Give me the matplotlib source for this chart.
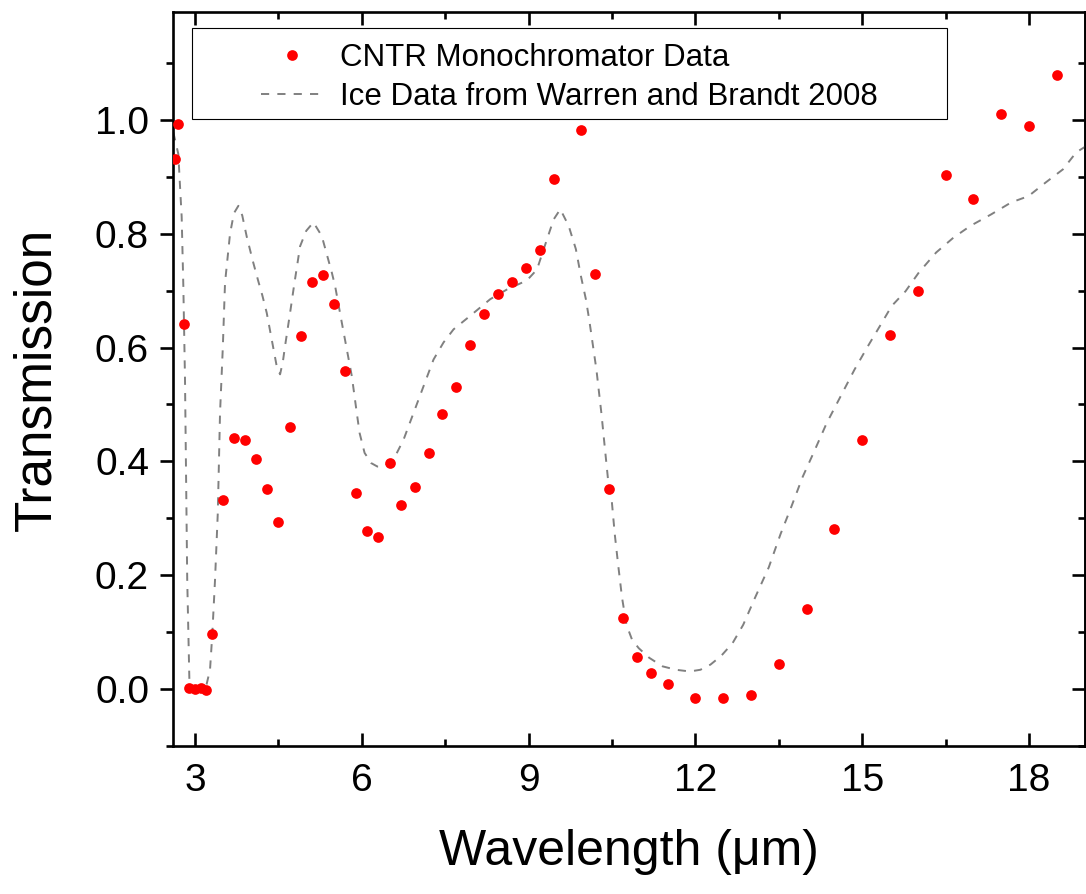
import numpy as np
import matplotlib.pyplot as plt
from matplotlib.patches import Rectangle
from matplotlib.ticker import MultipleLocator, FormatStrFormatter

plt.rcParams['font.family'] = ['Liberation Sans', 'DejaVu Sans']

## CNTR monochromator points
cntr_wl = [2.64, 2.7, 2.81, 2.9, 3.0, 3.1, 3.2, 3.3, 3.5, 3.7, 3.9, 4.1, 4.3,
           4.5, 4.7, 4.9, 5.1, 5.3, 5.5, 5.7, 5.9, 6.1, 6.3, 6.5, 6.7, 6.95,
           7.2, 7.45, 7.7, 7.95, 8.2, 8.45, 8.7, 8.95, 9.2, 9.45, 9.95, 10.2,
           10.45, 10.7, 10.95, 11.2, 11.5, 12.0, 12.5, 13.0, 13.5, 14.0, 14.5,
           15.0, 15.5, 16.0, 16.5, 17.0, 17.5, 18.0, 18.5]
cntr_tr = [0.932, 0.992, 0.641, 0.002, 0.0, 0.002, -0.001, 0.096, 0.333,
           0.442, 0.438, 0.404, 0.352, 0.293, 0.461, 0.620, 0.715, 0.727,
           0.676, 0.558, 0.344, 0.277, 0.267, 0.398, 0.324, 0.355, 0.414,
           0.484, 0.530, 0.604, 0.659, 0.694, 0.716, 0.740, 0.771, 0.896,
           0.982, 0.729, 0.351, 0.125, 0.057, 0.029, 0.009, -0.015, -0.016,
           -0.010, 0.045, 0.141, 0.281, 0.437, 0.622, 0.700, 0.904, 0.861,
           1.011, 0.990, 1.078]

## Ice curve, Warren and Brandt 2008 (traced)
ice_wl = [2.61, 2.70, 2.73, 2.76, 2.79, 2.82, 2.84, 2.86, 2.90, 3.0, 3.1,
          3.2, 3.27, 3.31, 3.36, 3.41, 3.45, 3.50, 3.54, 3.63, 3.70, 3.78,
          3.85, 3.93, 4.04, 4.14, 4.21, 4.29, 4.38, 4.47, 4.53, 4.58, 4.62,
          4.71, 4.78, 4.89, 5.0, 5.13, 5.28, 5.46, 5.52, 5.64, 5.73, 5.82,
          5.91, 5.96, 6.05, 6.17, 6.28, 6.39, 6.50, 6.60, 6.75, 6.93, 7.11,
          7.29, 7.47, 7.65, 7.94, 8.31, 8.61, 8.97, 9.15, 9.33, 9.45, 9.57,
          9.72, 9.85, 9.94, 10.03, 10.09, 10.22, 10.31, 10.37, 10.43, 10.49,
          10.55, 10.61, 10.68, 10.76, 10.86, 10.98, 11.17, 11.41, 11.65,
          11.9, 12.09, 12.27, 12.46, 12.67, 12.86, 13.07, 13.32, 13.53,
          13.72, 13.93, 14.12, 14.36, 14.61, 14.86, 15.10, 15.35, 15.53,
          15.78, 16.02, 16.33, 16.64, 16.95, 17.32, 17.68, 17.99, 18.30,
          18.61, 18.85, 19.03]
ice_tr = [0.978, 0.94, 0.884, 0.83, 0.708, 0.544, 0.368, 0.192, 0.01,
          0.003, 0.003, 0.005, 0.034, 0.095, 0.192, 0.31, 0.485, 0.60,
          0.714, 0.80, 0.836, 0.849, 0.832, 0.795, 0.752, 0.716, 0.692, 0.661,
          0.614, 0.567, 0.553, 0.575, 0.603, 0.661, 0.708, 0.778, 0.805,
          0.820, 0.796, 0.732, 0.708, 0.644, 0.597, 0.55, 0.485, 0.45, 0.415,
          0.397, 0.391, 0.391, 0.398, 0.409, 0.438, 0.485, 0.532, 0.579,
          0.609, 0.632, 0.655, 0.685, 0.702, 0.718, 0.737, 0.79, 0.825,
          0.843, 0.814, 0.773, 0.726, 0.685, 0.649, 0.561, 0.484, 0.425,
          0.367, 0.337, 0.272, 0.219, 0.161, 0.113, 0.087, 0.072, 0.055,
          0.040, 0.034, 0.031, 0.034, 0.043, 0.058, 0.081, 0.113, 0.160,
          0.214, 0.272, 0.319, 0.373, 0.414, 0.467, 0.514, 0.561, 0.602,
          0.643, 0.673, 0.699, 0.732, 0.767, 0.793, 0.814, 0.834, 0.855,
          0.866, 0.890, 0.913, 0.943, 0.954]

## Plot
fig = plt.figure(figsize=(10.86, 8.94), dpi=100)
ax = fig.add_axes([0.1596, 0.1655, 0.8391, 0.8214])

ln, = ax.plot(ice_wl, ice_tr, color='#808080', lw=1.4, dashes=(4.2, 4.2), zorder=2)
pts, = ax.plot(cntr_wl, cntr_tr, 'o', color='#ff0000', ms=7.7, mew=0, zorder=3)

ax.set_xlim(2.61, 19)
ax.set_ylim(-0.1, 1.19)
ax.xaxis.set_major_locator(MultipleLocator(3))
ax.xaxis.set_minor_locator(MultipleLocator(1.5))
ax.yaxis.set_major_locator(MultipleLocator(0.2))
ax.yaxis.set_minor_locator(MultipleLocator(0.1))
ax.yaxis.set_major_formatter(FormatStrFormatter('%.1f'))

for s in ax.spines.values(): s.set_linewidth(1.9)
ax.tick_params(axis='x', which='both', direction='in', top=True, width=1.9,
               labelsize=28, pad=12)
ax.tick_params(axis='y', which='both', direction='out', right=False, width=1.9,
               labelsize=28, pad=8)
ax.tick_params(which='major', length=9.5)
ax.tick_params(which='minor', length=4.7)

# right side ticks point inward
sec = ax.secondary_yaxis('right')
sec.yaxis.set_major_locator(MultipleLocator(0.2))
sec.yaxis.set_minor_locator(MultipleLocator(0.1))
sec.tick_params(which='both', direction='in', width=1.9, labelright=False)
sec.tick_params(which='major', length=9.5)
sec.tick_params(which='minor', length=4.7)
sec.spines['right'].set_linewidth(1.9)

ax.set_xlabel('Wavelength (\u03bcm)', fontsize=36, labelpad=22)
ax.set_ylabel('Transmission', fontsize=37, labelpad=24)

## Legend, frame drawn separately (text is centred in a wide box)
ax.add_patch(Rectangle((0.0205, 0.854), 0.828, 0.124, transform=ax.transAxes,
                       fill=False, ec='black', lw=0.8, zorder=5))
ax.legend([pts, ln], ['CNTR Monochromator Data', 'Ice Data from Warren and Brandt 2008'],
          loc='upper center', bbox_to_anchor=(0.4345, 0.983), frameon=False,
          fontsize=22.5, numpoints=1, handlelength=2.0, handletextpad=0.55,
          labelspacing=0.28, borderpad=0.1)

plt.savefig('out.png', dpi=100)
